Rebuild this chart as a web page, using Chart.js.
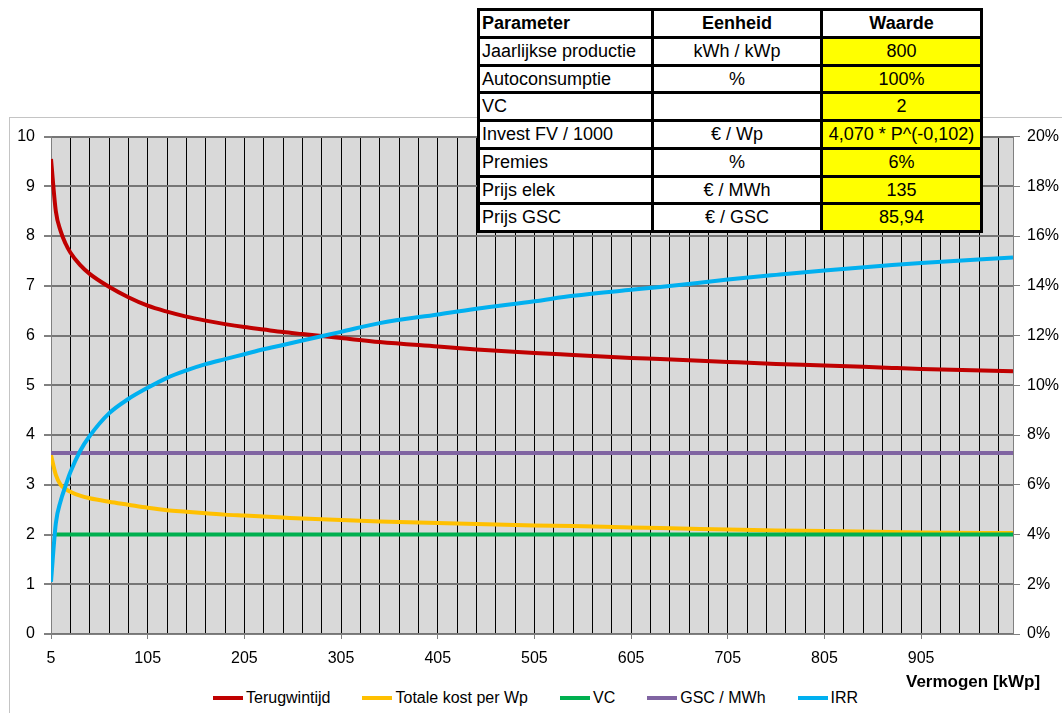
<!DOCTYPE html>
<html>
<head>
<meta charset="utf-8">
<title>Terugwintijd en IRR in functie van vermogen</title>
<script src="https://cdn.jsdelivr.net/npm/chart.js@4.4.1/dist/chart.umd.min.js"></script>
<style>
  html, body { margin: 0; padding: 0; width: 1062px; height: 713px; overflow: hidden; background: #fff;
    font-family: "Liberation Sans", Arial, sans-serif; color: #000; }
  #frame { position: absolute; left: 9px; top: 117px; width: 1100px; height: 650px;
    border: 1px solid #c4c4c4; box-sizing: border-box; }
  #chart { position: absolute; left: 10px; top: 118px; }
  #params { position: absolute; left: 477px; top: 8px; display: grid;
    grid-template-columns: 171px 166px 157px; grid-auto-rows: 24.75px; gap: 3px; padding: 3px;
    background: #000; z-index: 2; }
  #params div { background: #fff; font-size: 18px; line-height: 24.75px; text-align: center;
    white-space: nowrap; overflow: hidden; }
  #params div.l { text-align: left; padding-left: 2px; }
  #params div.h { font-weight: bold; }
  #params div.y { background: #ffff00; }
  #legend { position: absolute; left: 213px; top: 689px; display: flex; gap: 32px;
    font-size: 16px; line-height: 18px; white-space: nowrap; }
  #legend .item { display: flex; align-items: center; }
  #legend .swatch { width: 30px; height: 4px; margin-right: 3px; }
  #xtitle { position: absolute; left: 906px; top: 672px; font-weight: bold; font-size: 17px;
    line-height: 20px; white-space: nowrap; }
</style>
</head>
<body>
<div id="frame"></div>
<canvas id="chart" width="1066" height="560"></canvas>
<div id="params"></div>
<div id="xtitle">Vermogen [kWp]</div>
<div id="legend"></div>

<script>
// Installed power [kWp]
const vermogen = [5, 10, 15, 20, 25, 35, 45, 65, 85, 105, 125, 145, 165, 185, 205, 225, 245, 265,
  305, 345, 405, 445, 505, 545, 605, 635, 705, 755, 805, 875, 905, 1000];

// Payback time [years]
const terugwintijd = [9.55, 8.5, 8.1, 7.85, 7.67, 7.42, 7.24, 6.98, 6.77, 6.6, 6.48, 6.38, 6.3, 6.23,
  6.17, 6.12, 6.07, 6.03, 5.95, 5.87, 5.78, 5.72, 5.65, 5.61, 5.55, 5.53, 5.47, 5.43, 5.4, 5.35, 5.33, 5.28];

// Total cost per Wp [€]
const totaleKost = [3.6, 3.2, 3.0, 2.92, 2.86, 2.78, 2.73, 2.66, 2.6, 2.54, 2.49, 2.46, 2.43, 2.4,
  2.38, 2.36, 2.34, 2.32, 2.29, 2.26, 2.23, 2.21, 2.18, 2.17, 2.14, 2.13, 2.1, 2.08, 2.07, 2.05, 2.04, 2.03];

// Green certificates per MWh (no value for the first power step)
const vc = [null, 2, 2, 2, 2, 2, 2, 2, 2, 2, 2, 2, 2, 2, 2, 2, 2, 2, 2, 2, 2, 2, 2, 2, 2, 2, 2, 2, 2, 2, 2, 2];

// GSC / MWh
const gscMWh = [3.64, 3.64, 3.64, 3.64, 3.64, 3.64, 3.64, 3.64, 3.64, 3.64, 3.64, 3.64, 3.64, 3.64,
  3.64, 3.64, 3.64, 3.64, 3.64, 3.64, 3.64, 3.64, 3.64, 3.64, 3.64, 3.64, 3.64, 3.64, 3.64, 3.64, 3.64, 3.64];

// Internal rate of return [%], right axis
const irr = [2.1, 4.45, 5.35, 5.95, 6.5, 7.35, 7.96, 8.87, 9.45, 9.9, 10.3, 10.6, 10.85, 11.05, 11.25,
  11.45, 11.62, 11.8, 12.15, 12.5, 12.85, 13.08, 13.38, 13.6, 13.84, 13.95, 14.25, 14.44, 14.62, 14.84,
  14.92, 15.14];

// Labelled ticks on the power axis
const xTickLabels = [5, 105, 205, 305, 405, 505, 605, 705, 805, 905];

// Parameter table
const paramRows = [
  ['Jaarlijkse productie', 'kWh / kWp', '800'],
  ['Autoconsumptie', '%', '100%'],
  ['VC', '', '2'],
  ['Invest FV / 1000', '€ / Wp', '4,070 * P^(-0,102)'],
  ['Premies', '%', '6%'],
  ['Prijs elek', '€ / MWh', '135'],
  ['Prijs GSC', '€ / GSC', '85,94']
];

// Build the parameter table
const params = document.getElementById('params');
function cell(text, cls) {
  const d = document.createElement('div');
  d.className = cls;
  d.textContent = text;
  params.appendChild(d);
}
cell('Parameter', 'h l');
cell('Eenheid', 'h');
cell('Waarde', 'h');
paramRows.forEach(r => { cell(r[0], 'l'); cell(r[1], ''); cell(r[2], 'y'); });

// Series definitions (listed in legend order; lower "order" is drawn on top)
const series = [
  { label: 'Terugwintijd', values: terugwintijd, color: '#c00000', axis: 'y', order: 5 },
  { label: 'Totale kost per Wp', values: totaleKost, color: '#ffc000', axis: 'y', order: 4 },
  { label: 'VC', values: vc, color: '#00b050', axis: 'y', order: 3 },
  { label: 'GSC / MWh', values: gscMWh, color: '#8064a2', axis: 'y', order: 2 },
  { label: 'IRR', values: irr, color: '#00b0f0', axis: 'y1', order: 1 }
];

// Vertical grid every 20 kWp starting at 5
const xGrid = [];
for (let v = 5; v < 1000; v += 20) xGrid.push(v);

Chart.defaults.font.family = '"Liberation Sans", Arial, sans-serif';
Chart.defaults.font.size = 16;
Chart.defaults.color = '#000';

const plotBackground = {
  id: 'plotBackground',
  beforeDraw(chart) {
    const { ctx, chartArea: a } = chart;
    ctx.save();
    ctx.fillStyle = '#d9d9d9';
    ctx.fillRect(a.left, a.top, a.right - a.left, a.bottom - a.top);
    ctx.restore();
  }
};

const chart = new Chart(document.getElementById('chart'), {
  type: 'line',
  data: {
    datasets: series.map(s => ({
      label: s.label,
      data: vermogen.map((x, i) => ({ x: x, y: s.values[i] })),
      borderColor: s.color,
      backgroundColor: s.color,
      yAxisID: s.axis,
      order: s.order,
      borderWidth: 4,
      pointRadius: 0,
      fill: false,
      cubicInterpolationMode: 'monotone'
    }))
  },
  options: {
    responsive: false,
    animation: false,
    devicePixelRatio: 1,
    layout: { padding: { top: 11, left: 0, right: 0, bottom: 0 } },
    plugins: { legend: { display: false }, tooltip: { enabled: false } },
    scales: {
      x: {
        type: 'linear',
        min: 5,
        max: 1000,
        afterBuildTicks: s => { s.ticks = xGrid.map(v => ({ value: v })); },
        afterFit: s => { s.height = 44; },
        ticks: {
          autoSkip: false,
          maxRotation: 0,
          padding: 10,
          callback: v => (xTickLabels.includes(v) ? String(v) : '')
        },
        grid: {
          color: c => (c.tick && c.tick.value === 5 ? 'rgba(0,0,0,0)' : '#000000'),
          lineWidth: 1,
          tickLength: 5,
          tickColor: c => (c.tick && xTickLabels.includes(c.tick.value) ? '#808080' : 'rgba(0,0,0,0)')
        },
        border: { color: '#808080', width: 1 }
      },
      y: {
        position: 'left',
        min: 0,
        max: 10,
        afterFit: s => { s.width = 41; },
        ticks: { stepSize: 1, padding: 9 },
        grid: { color: '#767676', lineWidth: 2, tickLength: 7, tickColor: '#808080' },
        border: { color: '#808080', width: 1 }
      },
      y1: {
        position: 'right',
        min: 0,
        max: 20,
        afterFit: s => { s.width = 63; },
        ticks: { stepSize: 2, padding: 7, callback: v => v + '%' },
        grid: { drawOnChartArea: false, tickLength: 7, color: '#808080', lineWidth: 1 },
        border: { color: '#808080', width: 1 }
      }
    }
  },
  plugins: [plotBackground]
});

// Legend built from the chart's datasets
const legend = document.getElementById('legend');
chart.data.datasets.forEach(ds => {
  const item = document.createElement('div');
  item.className = 'item';
  const sw = document.createElement('span');
  sw.className = 'swatch';
  sw.style.background = ds.borderColor;
  const txt = document.createElement('span');
  txt.textContent = ds.label;
  item.appendChild(sw);
  item.appendChild(txt);
  legend.appendChild(item);
});
</script>
</body>
</html>
